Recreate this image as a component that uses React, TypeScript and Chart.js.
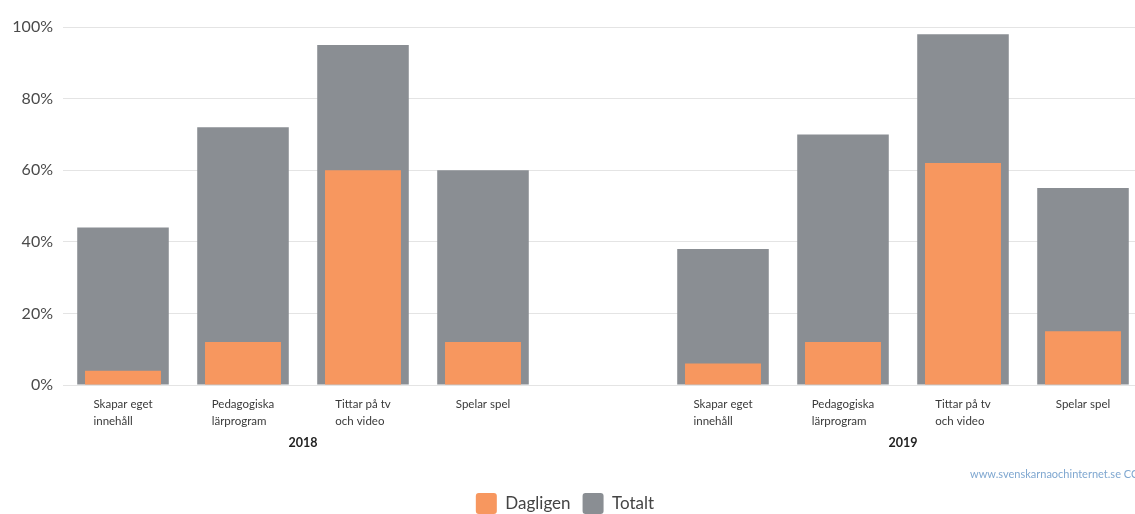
import React, { useEffect, useRef } from "react";
import { Chart, registerables } from "chart.js";

Chart.register(...registerables);

// ---- Data ----
const activities: string[][] = [
  ["Skapar eget", "innehåll"],
  ["Pedagogiska", "lärprogram"],
  ["Tittar på tv", "och video"],
  ["Spelar spel"],
];
const years = ["2018", "2019"];
const dagligen2018 = [4, 12, 60, 12];
const totalt2018 = [44, 72, 95, 60];
const dagligen2019 = [6, 12, 62, 15];
const totalt2019 = [38, 70, 98, 55];
const yTicks = [0, 20, 40, 60, 80, 100];
const seriesNames = ["Dagligen", "Totalt"];
const creditText = "www.svenskarnaochinternet.se CC";

const ORANGE = "#f7975f";
const GRAY = "#8a8e93";

// category slots: 4 for 2018, an empty spacer, 4 for 2019
const slotLabels: (string[] | null)[] = [...activities, null, ...activities];
const slotKeys = slotLabels.map((_, i) => String(i));
const dagligenData = [...dagligen2018, null, ...dagligen2019];
const totaltData = [...totalt2018, null, ...totalt2019];
const yearGroups = [
  { year: years[0], from: 0, to: 3 },
  { year: years[1], from: 5, to: 8 },
];

const FONT = "Lato, 'Open Sans', sans-serif";

const labelPlugin = {
  id: "groupLabels",
  afterLayout(chart: any) {
    const lg = chart.legend;
    if (lg) {
      const dx = -6.5;
      const dy = 10;
      lg.left += dx;
      lg.right += dx;
      lg.top += dy;
      lg.bottom += dy;
    }
  },
  afterDraw(chart: any) {
    const ctx = chart.ctx;
    const xs = chart.scales.x;
    const bottom = chart.chartArea.bottom;
    ctx.save();
    ctx.font = `11.5px ${FONT}`;
    ctx.fillStyle = "#3a3a3a";
    ctx.textAlign = "left";
    ctx.textBaseline = "middle";
    slotLabels.forEach((lines, i) => {
      if (!lines) return;
      const cx = xs.getPixelForValue(i);
      const w = Math.max(...lines.map((l) => ctx.measureText(l).width));
      lines.forEach((l, j) => {
        ctx.fillText(l, cx - w / 2, bottom + 19 + j * 17);
      });
    });
    ctx.font = `bold 12.5px ${FONT}`;
    ctx.fillStyle = "#222";
    ctx.textAlign = "center";
    yearGroups.forEach((g) => {
      const cx = (xs.getPixelForValue(g.from) + xs.getPixelForValue(g.to)) / 2;
      ctx.fillText(g.year, cx, bottom + 58);
    });
    ctx.font = `11px ${FONT}`;
    ctx.fillStyle = "#7fa7d0";
    ctx.textAlign = "left";
    ctx.fillText(creditText, 970, bottom + 89);
    ctx.restore();
  },
};

export default function App() {
  const ref = useRef<HTMLCanvasElement>(null);
  useEffect(() => {
    if (!ref.current) return;
    const chart = new Chart(ref.current, {
      type: "bar",
      data: {
        labels: slotKeys,
        datasets: [
          {
            label: seriesNames[0],
            data: dagligenData as any,
            backgroundColor: ORANGE,
            barPercentage: 0.633,
            categoryPercentage: 1,
            grouped: false,
          } as any,
          {
            label: seriesNames[1],
            data: totaltData as any,
            backgroundColor: GRAY,
            barPercentage: 0.763,
            categoryPercentage: 1,
            grouped: false,
          } as any,
        ],
      },
      options: {
        responsive: false,
        animation: false,
        layout: { padding: { top: 27, left: 0, right: 0, bottom: 0 } },
        plugins: {
          tooltip: { enabled: false },
          legend: {
            position: "bottom",
            labels: {
              boxWidth: 21,
              boxHeight: 21,
              padding: 12,
              color: "#444",
              font: { family: FONT, size: 17 },
              useBorderRadius: true,
              borderRadius: 3,
            } as any,
          },
        },
        scales: {
          x: {
            grid: { display: false },
            border: { display: false },
            ticks: { display: false },
            afterFit(scale: any) {
              const lh = scale.chart.legend ? scale.chart.legend.height : 0;
              scale.height = 129 - lh;
            },
          },
          y: {
            min: 0,
            max: 100,
            afterBuildTicks(scale: any) {
              scale.ticks = yTicks.map((v) => ({ value: v }));
            },
            afterFit(scale: any) {
              scale.width = 63;
            },
            grid: { color: "#e4e4e4", drawTicks: false, lineWidth: 1 },
            border: { display: false },
            ticks: {
              padding: 10,
              color: "#4a4a4a",
              font: { family: FONT, size: 16 },
              callback: (v: any) => `${v}%`,
            },
          },
        },
      },
      plugins: [labelPlugin],
    });
    return () => chart.destroy();
  }, []);
  return (
    <div
      style={{
        position: "absolute",
        left: 0,
        top: 0,
        width: 1135,
        height: 514,
        overflow: "hidden",
        background: "#fff",
      }}
    >
      <canvas ref={ref} width={1143} height={514} style={{ display: "block" }} />
    </div>
  );
}
